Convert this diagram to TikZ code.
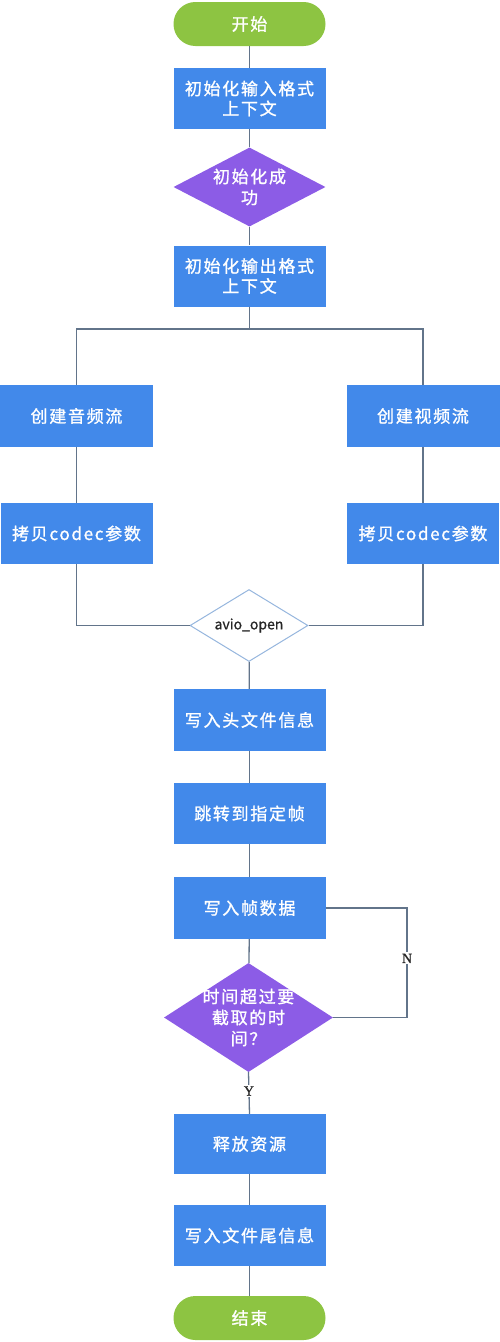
\documentclass[tikz,border=0pt]{standalone}
\usepackage{fontspec}
\setmainfont{Noto Sans CJK SC}
\newfontfamily\cjkfont[LetterSpace=10,FakeBold=1.2]{Noto Sans CJK SC}
\newfontfamily\latinfont[FakeBold=0.8]{Noto Sans CJK SC}
\newfontfamily\serifyn[FakeBold=1]{Liberation Serif}
\usetikzlibrary{shapes.geometric}
\definecolor{boxblue}{RGB}{66,137,234}
\definecolor{dpurple}{RGB}{140,92,230}
\definecolor{tgreen}{RGB}{141,196,66}
\definecolor{lnc}{RGB}{98,116,138}
\definecolor{avioborder}{RGB}{150,182,222}
\tikzset{
  flowline/.style={draw=lnc, line width=1.3pt},
  procbox/.style={rectangle, fill=boxblue, draw=none, text=white, minimum width=152pt,
     minimum height=61pt, inner sep=0pt, align=center,
     font=\cjkfont\fontsize{17pt}{20pt}\selectfont},
  termbox/.style={rectangle, rounded corners=21.9pt, fill=tgreen, draw=none, text=white,
     minimum width=152pt, minimum height=44pt, inner sep=0pt,
     font=\cjkfont\fontsize{17pt}{20pt}\selectfont},
  decision/.style={diamond, fill=dpurple, draw=none, inner sep=0pt},
  dtext/.style={text=white, inner sep=0pt, align=center,
     font=\cjkfont\fontsize{17pt}{21pt}\selectfont},
  yn/.style={fill=white, inner sep=1.5pt, font=\serifyn\fontsize{14pt}{15pt}\selectfont, text=black!85}
}
\begin{document}
\begin{tikzpicture}[x=1pt,y=-1pt]
\useasboundingbox (0,0) rectangle (500,1342);
\node[termbox] (start) at (249.5,24) {开始};
\node[procbox] (b1) at (249.5,98.5) {初始化输入格式\\上下文};
\node[decision, minimum width=152pt, minimum height=79pt] (d1) at (249.5,187) {};
\node[dtext] (d1t) at (d1.center) {初始化成\\功};
\node[procbox] (b2) at (249.5,276) {初始化输出格式\\上下文};
\node[procbox, minimum width=153pt, minimum height=62pt] (al) at (76.5,416) {创建音频流};
\node[procbox, minimum width=153pt, minimum height=62pt] (ar) at (423,416) {创建视频流};
\node[procbox] (cl) at (76.5,533.5) {拷贝codec参数};
\node[procbox] (cr) at (423,533.5) {拷贝codec参数};
\node[diamond, fill=white, draw=avioborder, line width=1pt, minimum width=118pt, minimum height=72pt,
      inner sep=0pt] (avio) at (249,625.5) {};
\node[font=\latinfont\fontsize{14pt}{15pt}\selectfont, text=black!85, inner sep=0pt] (aviot) at (avio.center) {avio\_open};
\node[procbox, minimum height=62pt] (b3) at (249.5,720) {写入头文件信息};
\node[procbox] (b4) at (249.5,813.5) {跳转到指定帧};
\node[procbox, minimum height=62pt] (b5) at (249.5,908) {写入帧数据};
\node[decision, minimum width=169pt, minimum height=109pt] (d2) at (248.5,1017.5) {};
\node[dtext] (d2t) at (d2.center) {时间超过要\\截取的时\\间？};
\node[procbox, minimum height=60pt] (b6) at (249.5,1144) {释放资源};
\node[procbox] (b7) at (249.5,1235.5) {写入文件尾信息};
\node[termbox] (end) at (249.5,1318) {结束};

\coordinate (split) at (249.5,329);
\coordinate (loopx) at (407,908);

\draw[flowline] (start) -- (b1);
\draw[flowline] (b1) -- (d1);
\draw[flowline] (d1) -- (b2);
\draw[flowline] (b2.south) -- (split);
\draw[flowline] (al.north) |- (split) -| (ar.north);
\draw[flowline] (al) -- (cl);
\draw[flowline] (ar) -- (cr);
\draw[flowline] (cl.south) |- (avio.west);
\draw[flowline] (cr.south) |- (avio.east);
\draw[flowline] (avio) -- (b3);
\draw[flowline] (b3) -- (b4);
\draw[flowline] (b4) -- (b5);
\draw[flowline] (b5) -- (d2);
\draw[flowline] (b5.east) -- (b5.east -| loopx) -- node[yn, pos=0.46] (nlab) {N} (d2.east -| loopx) -- (d2.east);
\draw[flowline] (d2.south) -- node[yn, pos=0.45] (ylab) {Y} (b6.north);
\draw[flowline] (b6) -- (b7);
\draw[flowline] (b7) -- (end);
\end{tikzpicture}
\end{document}
